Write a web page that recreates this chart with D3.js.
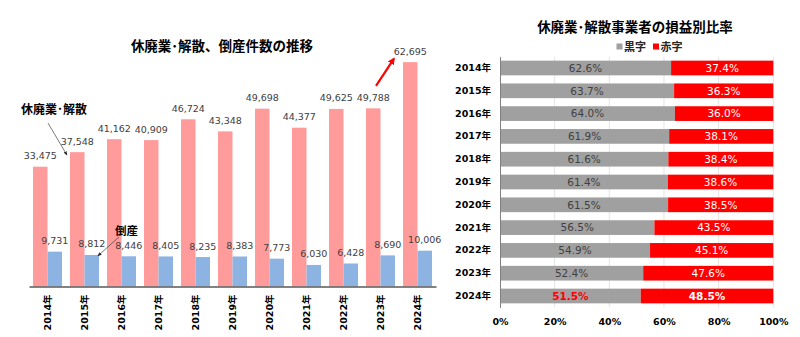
<!DOCTYPE html>
<html><head><meta charset="utf-8">
<script src="https://cdn.jsdelivr.net/npm/d3@7"></script>
<style>
body{margin:0;background:#fff;}
svg{display:block;}
text{font-family:"DejaVu Sans","Noto Sans CJK JP",sans-serif;}
.cjk{font-family:"Noto Sans CJK JP",sans-serif;}
</style></head>
<body>
<svg id="c" width="800" height="337"></svg>
<script>
const years = ["2014年","2015年","2016年","2017年","2018年","2019年","2020年","2021年","2022年","2023年","2024年"];
const closures = [33475,37548,41162,40909,46724,43348,49698,44377,49625,49788,62695];
const bankruptcies = [9731,8812,8446,8405,8235,8383,7773,6030,6428,8690,10006];
const profitRatio = [62.6,63.7,64.0,61.9,61.6,61.4,61.5,56.5,54.9,52.4,51.5];
const lossRatio = [37.4,36.3,36.0,38.1,38.4,38.6,38.5,43.5,45.1,47.6,48.5];
const pctTicks = [0,20,40,60,80,100];
const seriesNames = ["黒字","赤字"];

const svg = d3.select("#c");
const fmt = d3.format(",");

// ---------- Left chart ----------
const base = 286.5;
const x0 = d3.scaleBand().domain(years).range([29,436]).paddingInner(0.216).paddingOuter(0.108);
const x1 = d3.scaleBand().domain(["closure","bankrupt"]).range([0,x0.bandwidth()]);
const y = d3.scaleLinear().domain([0,70000]).range([base, base-250.5]);

svg.append("text").attr("class","cjk").attr("x",222).attr("y",50.5).attr("text-anchor","middle")
  .attr("font-size",13.5).attr("font-weight","bold").attr("fill","#000").text("休廃業･解散、倒産件数の推移");

const g = svg.append("g");
const groups = g.selectAll("g.yr").data(years).join("g").attr("transform",d=>`translate(${x0(d)},0)`);
groups.append("rect").attr("x",x1("closure")).attr("width",x1.bandwidth())
  .attr("y",(d,i)=>y(closures[i])).attr("height",(d,i)=>base-y(closures[i])).attr("fill","#ff9b9b");
groups.append("rect").attr("x",x1("bankrupt")).attr("width",x1.bandwidth())
  .attr("y",(d,i)=>y(bankruptcies[i])).attr("height",(d,i)=>base-y(bankruptcies[i])).attr("fill","#8db3e2");
groups.append("text").attr("x",x1("closure")+x1.bandwidth()/2).attr("y",(d,i)=>y(closures[i])-7.5)
  .attr("text-anchor","middle").attr("font-size",9.5).attr("fill","#404040").text((d,i)=>fmt(closures[i]));
groups.append("text").attr("x",x1("bankrupt")+x1.bandwidth()/2).attr("y",(d,i)=>y(bankruptcies[i])-7.5)
  .attr("text-anchor","middle").attr("font-size",9.5).attr("fill","#404040").text((d,i)=>fmt(bankruptcies[i]));

// x axis
const xAxis = g.append("g").attr("transform",`translate(0,${base})`).call(d3.axisBottom(x0).tickSize(0).tickPadding(0));
xAxis.select(".domain").attr("stroke","#595959").attr("stroke-width",1.5);
xAxis.selectAll(".tick text").attr("transform","rotate(-90)").attr("text-anchor","end")
  .attr("x",-8).attr("y",0).attr("dy","0.35em").attr("font-size",9.5).attr("font-weight","bold")
  .attr("fill","#000").style("font-family",'"DejaVu Sans","Noto Sans CJK JP",sans-serif');

// annotations
const defs = svg.append("defs");
defs.append("marker").attr("id","ah").attr("viewBox","0 0 10 10").attr("refX",9).attr("refY",5)
  .attr("markerWidth",6).attr("markerHeight",6).attr("orient","auto")
  .append("path").attr("d","M0,1L10,5L0,9z").attr("fill","#262626");
defs.append("marker").attr("id","ahr").attr("viewBox","0 0 10 10").attr("refX",8).attr("refY",5)
  .attr("markerWidth",3.2).attr("markerHeight",3.2).attr("orient","auto")
  .append("path").attr("d","M0,0L10,5L0,10z").attr("fill","#ff0000");

svg.append("text").attr("class","cjk").attr("x",21).attr("y",114).attr("font-size",12)
  .attr("font-weight","bold").attr("fill","#000").text("休廃業･解散");
const p15 = x0("2015年")+x1("closure");
svg.append("line").attr("x1",48).attr("y1",123).attr("x2",p15-3).attr("y2",y(closures[1])+3)
  .attr("stroke","#404040").attr("stroke-width",0.7).attr("marker-end","url(#ah)");

svg.append("text").attr("class","cjk").attr("x",115).attr("y",235).attr("font-size",11.5)
  .attr("font-weight","bold").attr("fill","#000").text("倒産");
const b15 = x0("2015年")+x1("bankrupt")+x1.bandwidth()/2;
svg.append("line").attr("x1",119).attr("y1",237).attr("x2",b15+6).attr("y2",y(bankruptcies[1])+1)
  .attr("stroke","#404040").attr("stroke-width",0.7).attr("marker-end","url(#ah)");

const r24 = x0("2024年");
svg.append("line").attr("x1",r24-27).attr("y1",y(closures[9])-22.5).attr("x2",r24-9).attr("y2",y(closures[10])-3.5)
  .attr("stroke","#ff0000").attr("stroke-width",2.2).attr("marker-end","url(#ahr)");

// ---------- Right chart ----------
const xr = d3.scaleLinear().domain([0,100]).range([500,773.3]);
const yr = d3.scaleBand().domain(years).range([56.6,307.4]).paddingInner(0.355).paddingOuter(0.1775);

svg.append("text").attr("class","cjk").attr("x",635).attr("y",31.5).attr("text-anchor","middle")
  .attr("font-size",13.5).attr("font-weight","bold").attr("fill","#000").text("休廃業･解散事業者の損益別比率");

// legend
const lg = svg.append("g");
const legendX = [616.5, 653];
const legendCol = ["#a0a0a0","#ff0000"];
seriesNames.forEach((n,i)=>{
  lg.append("rect").attr("x",legendX[i]).attr("y",43.5).attr("width",6).attr("height",6).attr("fill",legendCol[i]);
  lg.append("text").attr("class","cjk").attr("x",legendX[i]+7.5).attr("y",50.5).attr("font-size",11)
    .attr("font-weight","bold").attr("fill","#262626").text(n);
});

// grid
svg.append("g").selectAll("line").data(pctTicks.slice(1)).join("line")
  .attr("x1",d=>xr(d)).attr("x2",d=>xr(d)).attr("y1",56.6).attr("y2",307.4)
  .attr("stroke","#e3e3e3").attr("stroke-width",1);

const rows = svg.append("g").selectAll("g").data(years).join("g");
rows.append("rect").attr("x",xr(0)).attr("y",d=>yr(d)).attr("height",yr.bandwidth())
  .attr("width",(d,i)=>xr(profitRatio[i])-xr(0)).attr("fill","#a0a0a0");
rows.append("rect").attr("x",(d,i)=>xr(profitRatio[i])).attr("y",d=>yr(d)).attr("height",yr.bandwidth())
  .attr("width",(d,i)=>xr(profitRatio[i]+lossRatio[i])-xr(profitRatio[i])).attr("fill","#ff0000");
const last = years.length-1;
rows.append("text").attr("x",(d,i)=>(xr(0)+xr(profitRatio[i]))/2).attr("y",d=>yr(d)+yr.bandwidth()/2)
  .attr("dy","0.36em").attr("text-anchor","middle").attr("font-size",10.5)
  .attr("font-weight",(d,i)=>i===last?"bold":"normal")
  .attr("fill",(d,i)=>i===last?"#ff0000":"#404040").text((d,i)=>profitRatio[i].toFixed(1)+"%");
rows.append("text").attr("x",(d,i)=>(xr(profitRatio[i])+xr(profitRatio[i]+lossRatio[i]))/2).attr("y",d=>yr(d)+yr.bandwidth()/2)
  .attr("dy","0.36em").attr("text-anchor","middle").attr("font-size",10.5)
  .attr("font-weight",(d,i)=>i===last?"bold":"normal")
  .attr("fill","#ffffff").text((d,i)=>lossRatio[i].toFixed(1)+"%");

// y axis
const yAx = svg.append("g").attr("transform",`translate(${xr(0)},0)`).call(d3.axisLeft(yr).tickSize(0).tickPadding(9));
yAx.select(".domain").attr("stroke","#808080").attr("stroke-width",1);
yAx.selectAll(".tick text").attr("font-size",9.5).attr("font-weight","bold").attr("fill","#000")
  .style("font-family",'"DejaVu Sans","Noto Sans CJK JP",sans-serif');

// x axis
const xAx = svg.append("g").attr("transform",`translate(0,307.4)`)
  .call(d3.axisBottom(xr).tickValues(pctTicks).tickFormat(d=>d+"%").tickSize(0).tickPadding(11));
xAx.select(".domain").remove();
xAx.selectAll(".tick text").attr("font-size",9.5).attr("font-weight","bold").attr("fill","#000")
  .style("font-family",'"DejaVu Sans","Noto Sans CJK JP",sans-serif');
</script>
</body></html>
